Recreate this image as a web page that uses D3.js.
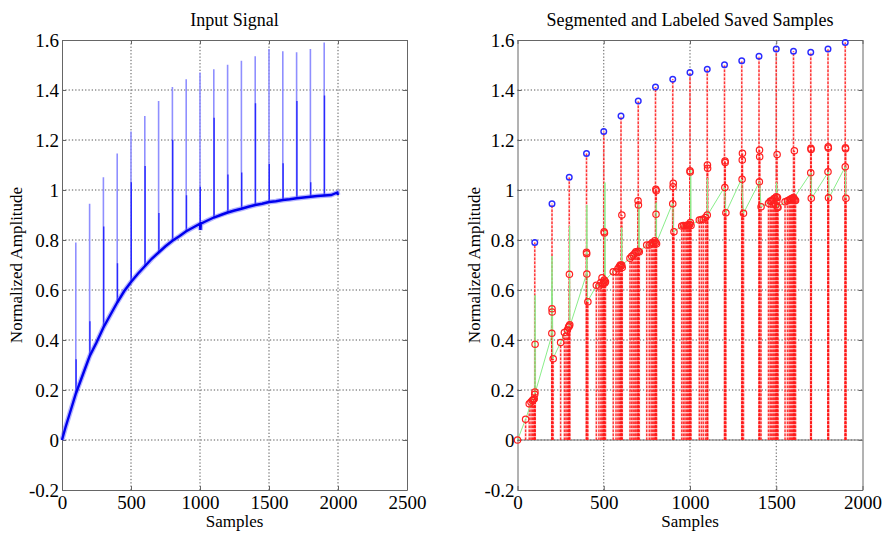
<!DOCTYPE html>
<html>
<head>
<meta charset="utf-8">
<script src="https://cdn.jsdelivr.net/npm/d3@7"></script>
<style>
  body { margin: 0; background: #fff; }
  svg { display: block; }
  text { font-family: "Liberation Serif", "Times New Roman", "DejaVu Serif", serif; fill: #000; }
</style>
</head>
<body>
<svg id="chart" width="886" height="533"></svg>
<script>
// ---------------- DATA ----------------
const leftTitle = "Input Signal";
const rightTitle = "Segmented and Labeled Saved Samples";
const xLabel = "Samples";
const yLabel = "Normalized Amplitude";

const yTicks = [-0.2, 0, 0.2, 0.4, 0.6, 0.8, 1, 1.2, 1.4, 1.6];
const xTicksLeft = [0, 500, 1000, 1500, 2000, 2500];
const xTicksRight = [0, 500, 1000, 1500, 2000];

// Input signal: underlying curve (sample index, amplitude)
const curveN = [0, 25, 50, 75, 100, 150, 200, 250, 300, 350, 400, 450, 500, 550, 600, 650, 700, 750, 800, 850, 900, 950, 1000, 1003, 1006, 1050, 1100, 1150, 1200, 1250, 1300, 1350, 1400, 1450, 1500, 1550, 1600, 1650, 1700, 1750, 1800, 1850, 1900, 1950, 1995, 2000];
const curveV = [0, 0.05, 0.095, 0.14, 0.185, 0.26, 0.335, 0.39, 0.45, 0.50, 0.55, 0.595, 0.632, 0.665, 0.695, 0.725, 0.75, 0.775, 0.797, 0.815, 0.835, 0.85, 0.865, 0.84, 0.865, 0.877, 0.89, 0.9, 0.91, 0.918, 0.925, 0.933, 0.94, 0.945, 0.952, 0.955, 0.96, 0.963, 0.967, 0.97, 0.973, 0.976, 0.978, 0.98, 0.99, 0.98];

// Spikes every 100 samples: outer (light) peak and inner (dark) peak
const spikeN = [100, 200, 300, 400, 500, 600, 700, 800, 900, 1000, 1100, 1200, 1300, 1400, 1500, 1600, 1700, 1800, 1900];
const spikePeak = [0.79, 0.945, 1.051, 1.146, 1.234, 1.296, 1.356, 1.412, 1.443, 1.470, 1.483, 1.501, 1.517, 1.535, 1.564, 1.555, 1.551, 1.564, 1.590];
const spikeInner = [0.323, 0.475, 0.854, 0.707, 1.031, 1.096, 0.908, 1.201, 0.979, 1.013, 1.289, 1.062, 1.070, 1.347, 1.104, 1.107, 1.356, 1.031, 1.378];

// Saved samples (red stems + circles)
const savedN = [
  0, 47, 68, 78, 86, 92, 97, 100, 101, 102,
  199, 200, 201, 207,
  250, 272, 281, 289, 296, 300, 303, 301,
  400, 401, 402, 408,
  457, 472, 483, 490, 495, 500, 503, 506, 510, 502, 504,
  555, 571, 582, 590, 596, 600, 604, 607, 605,
  652, 662, 671, 680, 686, 693, 700, 706, 699, 701,
  749, 764, 775, 783, 790, 796, 801, 806, 803, 802, 804,
  900, 903, 902, 907,
  952, 962, 971, 980, 986, 992, 998, 1002, 1006, 1000, 1001,
  1054, 1066, 1077, 1090, 1100, 1101, 1102,
  1203, 1204, 1202, 1208,
  1304, 1303, 1302, 1310,
  1403, 1404, 1402, 1412,
  1455, 1465, 1472, 1480, 1486, 1492, 1497, 1500, 1503, 1506, 1510, 1505, 1507,
  1551, 1565, 1575, 1582, 1588, 1594, 1600, 1604, 1608, 1612, 1605,
  1701, 1702, 1700, 1703,
  1801, 1802, 1800, 1803,
  1901, 1902, 1900, 1904
];
const savedV = [
  0, 0.083, 0.145, 0.152, 0.158, 0.162, 0.165, 0.183, 0.192, 0.383,
  0.427, 0.525, 0.512, 0.325,
  0.39, 0.43, 0.415, 0.44, 0.452, 0.456, 0.461, 0.663,
  0.751, 0.745, 0.664, 0.553,
  0.619, 0.616, 0.63, 0.649, 0.625, 0.63, 0.64, 0.628, 0.633, 0.833, 0.828,
  0.673, 0.673, 0.685, 0.693, 0.70, 0.695, 0.70, 0.69, 0.90,
  0.727, 0.735, 0.74, 0.747, 0.753, 0.75, 0.755, 0.753, 0.957, 0.94,
  0.78, 0.78, 0.785, 0.79, 0.787, 0.797, 0.79, 0.785, 0.903, 1.003, 0.997,
  0.945, 1.027, 1.013, 0.833,
  0.856, 0.858, 0.856, 0.858, 0.86, 0.856, 0.862, 0.87, 0.858, 1.077, 1.072,
  0.88, 0.882, 0.883, 0.89, 0.90, 1.10, 1.087,
  1.116, 1.11, 1.01, 0.909,
  1.147, 1.12, 1.043, 0.907,
  1.16, 1.133, 1.033, 0.933,
  0.947, 0.955, 0.957, 0.96, 0.965, 0.967, 0.94, 0.973, 0.955, 0.933, 0.93, 1.142, 0.97,
  0.953, 0.957, 0.96, 0.963, 0.965, 0.967, 0.97, 0.965, 0.96, 0.958, 1.157,
  1.167, 1.162, 1.069, 0.967,
  1.173, 1.168, 1.073, 0.969,
  1.169, 1.165, 1.093, 0.967
];

// Labeled segment line (green)
const greenN = [0, 47, 100, 102, 103, 195, 200, 205, 250, 275, 300, 302, 304, 400, 402, 405, 459, 478, 505, 507, 509, 555, 603, 604, 606, 652, 703, 704, 706, 749, 803, 804, 806, 899, 900, 905, 952, 1003, 1004, 1006, 1054, 1077, 1100, 1101, 1102, 1199, 1208, 1298, 1310, 1403, 1412, 1455, 1500, 1502, 1508, 1551, 1605, 1701, 1705, 1803, 1806, 1900, 1903];
const greenV = [0, 0.083, 0.19, 0.58, 0.19, 0.41, 0.736, 0.325, 0.39, 0.43, 0.456, 0.856, 0.456, 0.664, 0.94, 0.553, 0.619, 0.616, 0.633, 1.03, 0.64, 0.673, 0.70, 0.85, 0.70, 0.727, 0.753, 0.94, 0.753, 0.78, 0.79, 0.95, 0.79, 0.947, 0.947, 0.833, 0.856, 0.86, 1.08, 0.86, 0.88, 0.883, 0.90, 1.047, 0.90, 1.01, 0.909, 1.043, 0.907, 1.033, 0.933, 0.947, 0.96, 1.03, 0.93, 0.953, 0.97, 1.069, 0.967, 1.073, 0.969, 1.093, 0.967];

// ---------------- LAYOUT ----------------
const svg = d3.select("#chart");
const plotTop = 40, plotBottom = 490;
const FONT = '"Liberation Serif", "Times New Roman", serif';
const y = d3.scaleLinear().domain([-0.2, 1.6]).range([plotBottom, plotTop]);
const xL = d3.scaleLinear().domain([0, 2500]).range([62, 407]);
const xR = d3.scaleLinear().domain([0, 2000]).range([517.5, 862.5]);
const fmt = d => String(+d.toFixed(1));

function frame(x, xTicks, title, yLabX) {
  const g = svg.append("g");
  const [x0, x1] = x.range();
  // grid
  g.append("g").selectAll("line").data(yTicks.filter(t => t > -0.2 && t < 1.6)).join("line")
    .attr("x1", x0).attr("x2", x1).attr("y1", d => y(d)).attr("y2", d => y(d))
    .attr("stroke", "#444").attr("stroke-width", 0.9).attr("stroke-dasharray", "1.3,2");
  g.append("g").selectAll("line").data(xTicks.filter(t => t > x.domain()[0] && t < x.domain()[1])).join("line")
    .attr("x1", d => x(d)).attr("x2", d => x(d)).attr("y1", plotTop).attr("y2", plotBottom)
    .attr("stroke", "#444").attr("stroke-width", 0.9).attr("stroke-dasharray", "1.3,2");
  // axes
  const ax = (sel) => sel.attr("font-family", null)
    .call(s => s.select(".domain").attr("stroke", "#666"))
    .call(s => s.selectAll(".tick line").attr("stroke", "#666"));
  const lab = s => s.selectAll("text").style("font-family", FONT).style("font-size", "19px").attr("fill", "#000");
  g.append("g").attr("transform", `translate(0,${plotBottom})`)
    .call(d3.axisBottom(x).tickValues(xTicks).tickFormat(fmt).tickSize(-4).tickSizeOuter(0).tickPadding(6))
    .call(ax).call(lab);
  g.append("g").attr("transform", `translate(0,${plotTop})`)
    .call(d3.axisTop(x).tickValues(xTicks).tickFormat("").tickSize(-4).tickSizeOuter(0))
    .call(ax);
  g.append("g").attr("transform", `translate(${x0},0)`)
    .call(d3.axisLeft(y).tickValues(yTicks).tickFormat(fmt).tickSize(-4).tickSizeOuter(0).tickPadding(3))
    .call(ax).call(lab);
  g.append("g").attr("transform", `translate(${x1},0)`)
    .call(d3.axisRight(y).tickValues(yTicks).tickFormat("").tickSize(-4).tickSizeOuter(0))
    .call(ax);
  // labels
  svg.append("text").attr("x", (x0 + x1) / 2).attr("y", 26).attr("text-anchor", "middle")
    .style("font-family", FONT).style("font-size", "18px").text(title);
  svg.append("text").attr("x", (x0 + x1) / 2).attr("y", 527).attr("text-anchor", "middle")
    .style("font-family", FONT).style("font-size", "17px").text(xLabel);
  svg.append("text").attr("transform", `translate(${yLabX},${(plotTop + plotBottom) / 2}) rotate(-90)`)
    .attr("text-anchor", "middle").attr("dy", "0.35em")
    .style("font-family", FONT).style("font-size", "17px").text(yLabel);
  return g;
}

// ---------------- LEFT: input signal ----------------
frame(xL, xTicksLeft, leftTitle, 16);
const plotL = svg.append("g");
const curve = curveN.map((n, i) => [n, curveV[i]]);
const curveAt = n => {
  const i = d3.bisectLeft(curveN, n);
  if (i <= 0) return curveV[0];
  if (curveN[i] === n) return curveV[i];
  const t = (n - curveN[i - 1]) / (curveN[i] - curveN[i - 1]);
  return curveV[i - 1] + t * (curveV[i] - curveV[i - 1]);
};
// light outer spikes
plotL.append("g").selectAll("line").data(spikeN).join("line")
  .attr("x1", d => xL(d)).attr("x2", d => xL(d))
  .attr("y1", d => y(curveAt(d))).attr("y2", (d, i) => y(spikePeak[i]))
  .attr("stroke", "#8f8fff").attr("stroke-width", 1.6);
// dark inner spikes
plotL.append("g").selectAll("line").data(spikeN).join("line")
  .attr("x1", d => xL(d) + 0.3).attr("x2", d => xL(d) + 0.3)
  .attr("y1", d => y(curveAt(d))).attr("y2", (d, i) => y(spikeInner[i]))
  .attr("stroke", "#2a2aff").attr("stroke-width", 1.4);
const lineL = d3.line().x(d => xL(d[0])).y(d => y(d[1]));
plotL.append("path").datum(curve).attr("d", lineL).attr("fill", "none")
  .attr("stroke", "#6a6aff").attr("stroke-width", 5).attr("stroke-opacity", 0.5);
plotL.append("path").datum(curve).attr("d", lineL).attr("fill", "none")
  .attr("stroke", "#0000ee").attr("stroke-width", 2.4);

// ---------------- RIGHT: segmented samples ----------------
frame(xR, xTicksRight, rightTitle, 474);
const plotR = svg.append("g");
plotR.append("line").attr("x1", xR(0)).attr("x2", xR(2000)).attr("y1", y(0)).attr("y2", y(0))
  .attr("stroke", "#777").attr("stroke-width", 1.2);
const saved = savedN.map((n, i) => ({ n, v: savedV[i] }));
const peaks = spikeN.map((n, i) => ({ n, v: spikePeak[i] }));
const stems = saved.concat(peaks);
plotR.append("g").selectAll("line").data(stems).join("line")
  .attr("x1", d => xR(d.n)).attr("x2", d => xR(d.n)).attr("y1", y(0)).attr("y2", d => y(d.v))
  .attr("stroke", "#ff9a9a").attr("stroke-width", 2).attr("stroke-opacity", 0.45);
plotR.append("g").selectAll("line").data(stems).join("line")
  .attr("x1", d => xR(d.n)).attr("x2", d => xR(d.n)).attr("y1", y(0)).attr("y2", d => y(d.v))
  .attr("stroke", "#ff1a1a").attr("stroke-width", 1.4).attr("stroke-dasharray", "2.5,1.5").attr("stroke-opacity", 0.85);
const green = greenN.map((n, i) => [n, greenV[i]]);
plotR.append("path").datum(green).attr("d", d3.line().x(d => xR(d[0])).y(d => y(d[1])))
  .attr("fill", "none").attr("stroke", "#8aee8a").attr("stroke-width", 1);
plotR.append("g").selectAll("circle").data(saved).join("circle")
  .attr("cx", d => xR(d.n)).attr("cy", d => y(d.v)).attr("r", 3.2)
  .attr("fill", "none").attr("stroke", "#ff2020").attr("stroke-width", 1.2);
plotR.append("g").selectAll("circle").data(peaks).join("circle")
  .attr("cx", d => xR(d.n)).attr("cy", d => y(d.v)).attr("r", 2.8)
  .attr("fill", "none").attr("stroke", "#2a2aff").attr("stroke-width", 1.4);
</script>
</body>
</html>
